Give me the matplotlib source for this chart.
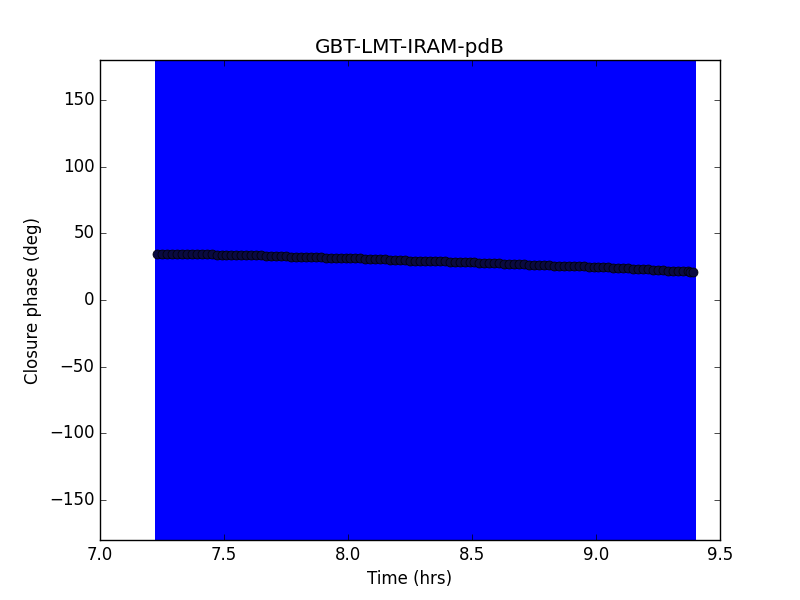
import matplotlib
matplotlib.use('Agg')
import matplotlib.pyplot as plt

plt.style.use('classic')

# closure phase of one triangle-quad vs time
time_hrs = [7.23, 7.25, 7.27, 7.29, 7.31, 7.33, 7.35, 7.37, 7.39, 7.41,
            7.43, 7.45, 7.47, 7.49, 7.51, 7.53, 7.55, 7.57, 7.59, 7.61,
            7.63, 7.65, 7.67, 7.69, 7.71, 7.73, 7.75, 7.77, 7.79, 7.81,
            7.83, 7.85, 7.87, 7.89, 7.91, 7.93, 7.95, 7.97, 7.99, 8.01,
            8.03, 8.05, 8.07, 8.09, 8.11, 8.13, 8.15, 8.17, 8.19, 8.21,
            8.23, 8.25, 8.27, 8.29, 8.31, 8.33, 8.35, 8.37, 8.39, 8.41,
            8.43, 8.45, 8.47, 8.49, 8.51, 8.53, 8.55, 8.57, 8.59, 8.61,
            8.63, 8.65, 8.67, 8.69, 8.71, 8.73, 8.75, 8.77, 8.79, 8.81,
            8.83, 8.85, 8.87, 8.89, 8.91, 8.93, 8.95, 8.97, 8.99, 9.01,
            9.03, 9.05, 9.07, 9.09, 9.11, 9.13, 9.15, 9.17, 9.19, 9.21,
            9.23, 9.25, 9.27, 9.29, 9.31, 9.33, 9.35, 9.37, 9.38, 9.39]
cphase = [34.5, 34.5, 34.4, 34.4, 34.3, 34.8, 34.8, 34.7, 34.7, 34.6,
          34.6, 34.2, 34.1, 34.1, 34.0, 33.9, 33.9, 33.8, 33.7, 33.7,
          33.6, 33.5, 33.0, 32.9, 32.9, 32.8, 32.7, 32.6, 32.6, 32.5,
          32.4, 32.3, 32.0, 31.9, 31.8, 31.8, 31.7, 31.6, 31.5, 31.4,
          31.3, 31.2, 30.9, 30.8, 30.7, 30.6, 30.4, 30.3, 30.2, 30.1,
          29.7, 29.6, 29.5, 29.4, 29.3, 29.2, 29.1, 29.0, 28.9, 28.8,
          28.7, 28.6, 28.5, 28.4, 28.3, 28.0, 27.9, 27.8, 27.7, 27.4,
          27.3, 27.2, 27.1, 27.0, 26.7, 26.6, 26.5, 26.4, 26.3, 25.9,
          25.8, 25.7, 25.6, 25.5, 25.4, 25.3, 25.2, 25.1, 25.0, 24.9,
          24.5, 24.4, 24.3, 24.2, 24.1, 24.0, 23.6, 23.5, 23.4, 23.3,
          22.6, 22.4, 22.3, 22.1, 22.0, 21.8, 21.6, 21.4, 21.2, 21.1]
# sigma is huge for every point (bars run off the axes)
cphase_err = [400.0] * len(time_hrs)

plt.figure(figsize=(8, 6), dpi=100)
plt.errorbar(time_hrs, cphase, yerr=cphase_err, fmt='o', color='b',
             ecolor='b', elinewidth=3.6, capsize=0, markersize=6.5,
             markerfacecolor='#0a0a40', markeredgecolor='k')
plt.xlim(7.0, 9.5)
plt.ylim(-180, 180)
plt.xlabel('Time (hrs)')
plt.ylabel('Closure phase (deg)')
plt.title('GBT-LMT-IRAM-pdB')
plt.savefig('out.png', dpi=100, facecolor='white')
